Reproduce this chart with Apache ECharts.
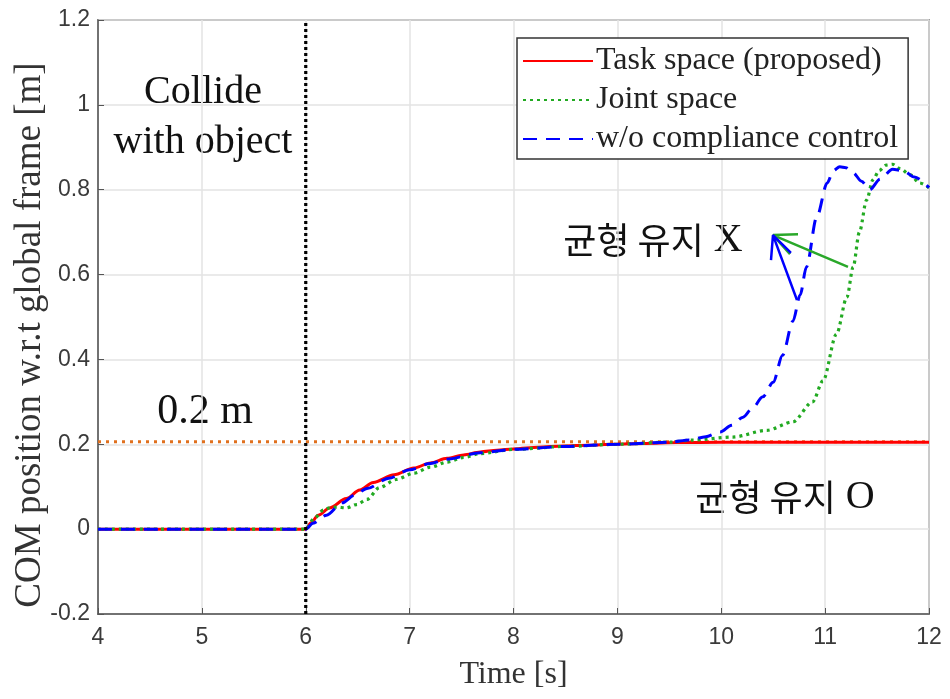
<!DOCTYPE html>
<html>
<head>
<meta charset="utf-8">
<script src="https://cdn.jsdelivr.net/npm/echarts@6/dist/echarts.min.js"></script>
<style>
  html, body { margin: 0; padding: 0; background: #fff; }
  #chart { width: 950px; height: 699px; }
</style>
</head>
<body>
<div id="chart"></div>
<script>
// time axis [s] and COM position [m]
const redTime = [4, 6, 6.05, 6.12, 6.23, 6.39, 6.52, 6.65, 6.85, 7.04, 7.2, 7.36, 7.52, 7.68, 7.84, 8.0, 8.24, 8.48, 8.72, 8.96, 9.25, 9.57, 10, 10.5, 11, 11.5, 12];
const redPos = [0, 0, 0.015, 0.033, 0.05, 0.072, 0.092, 0.11, 0.128, 0.144, 0.156, 0.167, 0.175, 0.182, 0.186, 0.189, 0.193, 0.196, 0.198, 0.2, 0.202, 0.204, 0.205, 0.205, 0.205, 0.205, 0.205];

const greenTime = [4, 6, 6.08, 6.17, 6.23, 6.3, 6.39, 6.49, 6.59, 6.71, 6.87, 7.04, 7.2, 7.36, 7.52, 7.68, 8.0, 8.5, 9.0, 9.5, 9.73, 10.11, 10.44, 10.69, 10.88, 10.98, 11.11, 11.21, 11.27, 11.33, 11.4, 11.46, 11.52, 11.59, 11.65, 11.72, 11.82, 11.91, 12];
const greenPos = [0, 0, 0.025, 0.045, 0.05, 0.052, 0.05, 0.058, 0.07, 0.098, 0.117, 0.132, 0.146, 0.158, 0.169, 0.178, 0.188, 0.195, 0.2, 0.205, 0.21, 0.217, 0.233, 0.253, 0.3, 0.35, 0.46, 0.547, 0.618, 0.7, 0.776, 0.823, 0.845, 0.858, 0.86, 0.85, 0.835, 0.816, 0.805];

const blueTime = [4, 6, 6.07, 6.2, 6.35, 6.47, 6.59, 6.8, 7.0, 7.2, 7.36, 7.68, 8.0, 8.5, 9.0, 9.5, 9.7, 9.85, 9.99, 10.1, 10.21, 10.3, 10.4, 10.5, 10.59, 10.69, 10.76, 10.82, 10.92, 11.02, 11.08, 11.14, 11.2, 11.27, 11.35, 11.43, 11.53, 11.65, 11.75, 11.86, 12];
const bluePos = [0, 0, 0.014, 0.033, 0.062, 0.08, 0.096, 0.12, 0.14, 0.155, 0.165, 0.18, 0.188, 0.195, 0.2, 0.205, 0.21, 0.218, 0.229, 0.245, 0.264, 0.285, 0.312, 0.346, 0.41, 0.49, 0.552, 0.618, 0.736, 0.816, 0.845, 0.854, 0.852, 0.84, 0.82, 0.8, 0.825, 0.848, 0.845, 0.83, 0.805];

const seriesNames = ["Task space (proposed)", "Joint space", "w/o compliance control"];

// reference lines
const targetLine = [[4, 0.206], [12, 0.206]];
const collideLine = [[6, -0.2], [6, 1.2]];

// annotation arrows (tail, tip, then head barbs)
const greenArrow = [[11.22, 0.618], [10.498, 0.693], "-", [10.739, 0.695], [10.498, 0.693], [10.662, 0.648]];
const blueArrow = [[10.729, 0.54], [10.498, 0.693], "-", [10.671, 0.651], [10.498, 0.693], [10.479, 0.634]];

const zip = (t, v) => t.map((x, i) => [x, v[i]]);

const serif = "'Liberation Serif', 'DejaVu Serif', serif";
const korean = "'Noto Sans CJK KR', sans-serif";
const chart = echarts.init(document.getElementById("chart"));

function label(text, x, y, size, rotation) {
  return {
    type: "text",
    x, y,
    rotation: rotation || 0,
    style: {
      text,
      font: `${size}px ${serif}`,
      fill: rotation ? "#333" : "#111",
      align: "center",
      verticalAlign: "middle",
    },
  };
}

function koreanLabel(word, mark, x, y) {
  return {
    type: "text",
    x, y,
    style: {
      text: `{k|${word}}{m|${mark}}`,
      align: "center",
      verticalAlign: "middle",
      rich: {
        k: { fontFamily: korean, fontSize: 36, fill: "#111" },
        m: { fontFamily: serif, fontSize: 40, fill: "#111", padding: [0, 0, 0, 10] },
      },
    },
  };
}

chart.setOption({
  animation: false,
  backgroundColor: "#fff",
  grid: {
    left: 98, right: 21, top: 20, bottom: 85,
    show: true,
    borderColor: "#555",
    borderWidth: 1.5,
  },
  legend: {
    data: seriesNames,
    orient: "vertical",
    left: 517,
    top: 38,
    backgroundColor: "#fff",
    borderColor: "#333",
    borderWidth: 1.5,
    borderRadius: 0,
    padding: [7, 10, 4, 5],
    itemWidth: 70,
    itemHeight: 14,
    itemGap: 7,
    itemStyle: { opacity: 0 },
    textStyle: { fontFamily: serif, fontSize: 32, color: "#222", lineHeight: 31, padding: [0, 0, 0, -2] },
  },
  xAxis: {
    type: "value",
    min: 4, max: 12, interval: 1,
    name: "Time [s]",
    nameLocation: "middle",
    nameGap: 45,
    nameTextStyle: { fontFamily: serif, fontSize: 32, color: "#333" },
    axisLine: { onZero: false, lineStyle: { color: "#555", width: 1.5 } },
    axisTick: { inside: true, length: 6, lineStyle: { color: "#555" } },
    axisLabel: { fontFamily: "'Liberation Sans', Arial, sans-serif", fontSize: 23, color: "#3a3a3a", margin: 12 },
    splitLine: { lineStyle: { color: "#e3e3e3", width: 1.5 } },
  },
  yAxis: {
    type: "value",
    min: -0.2, max: 1.2, interval: 0.2,
    axisLine: { onZero: false, lineStyle: { color: "#555", width: 1.5 } },
    axisTick: { inside: true, length: 6, lineStyle: { color: "#555" } },
    axisLabel: { fontFamily: "'Liberation Sans', Arial, sans-serif", fontSize: 23, color: "#3a3a3a", margin: 8 },
    splitLine: { lineStyle: { color: "#e3e3e3", width: 1.5 } },
  },
  series: [
    {
      name: "target",
      type: "line",
      data: targetLine,
      symbol: "none",
      silent: true,
      z: 1,
      lineStyle: { color: "#e0701e", width: 3, type: [3, 5] },
    },
    {
      name: seriesNames[0],
      type: "line",
      data: zip(redTime, redPos),
      symbol: "none",
      smooth: 0.3,
      smoothMonotone: "x",
      z: 2,
      color: "#ff0000",
      lineStyle: { color: "#ff0000", width: 3 },
    },
    {
      name: seriesNames[1],
      type: "line",
      data: zip(greenTime, greenPos),
      symbol: "none",
      smooth: 0.3,
      smoothMonotone: "x",
      z: 3,
      color: "#22aa22",
      lineStyle: { color: "#22aa22", width: 3.2, type: [3, 4] },
    },
    {
      name: seriesNames[2],
      type: "line",
      data: zip(blueTime, bluePos),
      symbol: "none",
      smooth: 0.3,
      smoothMonotone: "x",
      z: 4,
      color: "#0000ff",
      lineStyle: { color: "#0000ff", width: 3, type: [14, 9] },
    },
    {
      name: "collide",
      type: "line",
      data: collideLine,
      symbol: "none",
      silent: true,
      z: 5,
      lineStyle: { color: "#000", width: 3.2, type: [3, 3] },
    },
    {
      name: "arrowGreen",
      type: "line",
      data: greenArrow,
      symbol: "none",
      silent: true,
      z: 6,
      lineStyle: { color: "#2aa82a", width: 2.5 },
    },
    {
      name: "arrowBlue",
      type: "line",
      data: blueArrow,
      symbol: "none",
      silent: true,
      z: 6,
      lineStyle: { color: "#0000ff", width: 2.5 },
    },
  ],
  graphic: [
    label("COM position w.r.t global frame [m]", 30, 335, 37, Math.PI / 2),
    label("Collide", 203, 92, 40),
    label("with object", 203, 142, 40),
    label("0.2 m", 205, 412, 42),
    koreanLabel("균형 유지", "X", 653, 240),
    koreanLabel("균형 유지", "O", 785, 497),
  ],
});
</script>
</body>
</html>
